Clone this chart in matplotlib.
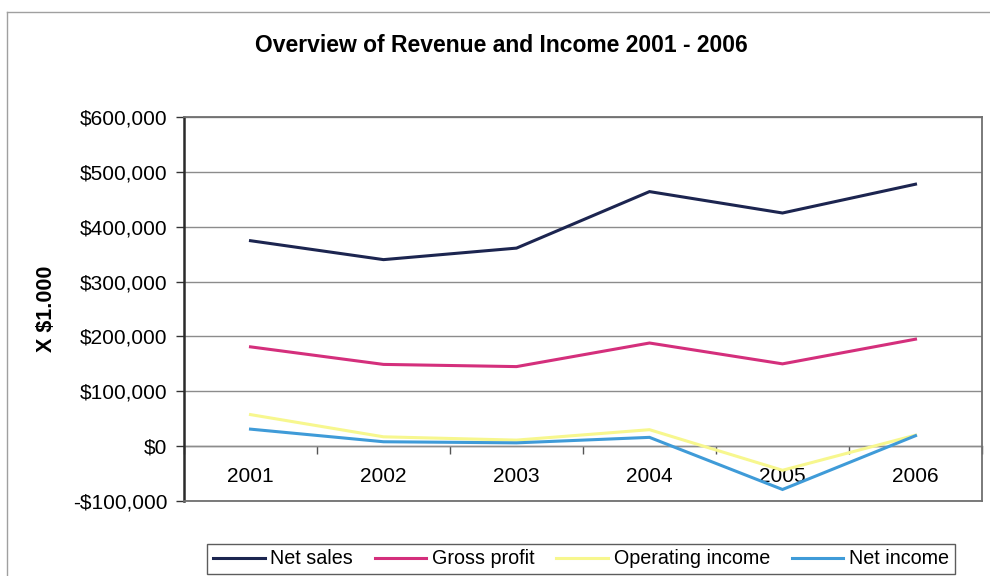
import matplotlib
matplotlib.use("Agg")
import matplotlib.pyplot as plt
from matplotlib.lines import Line2D
from matplotlib.ticker import FuncFormatter, FixedLocator

plt.rcParams['font.family'] = ['Liberation Sans', 'DejaVu Sans']

years = ["2001", "2002", "2003", "2004", "2005", "2006"]
net_sales = [374500, 340000, 361000, 464000, 425000, 477500]
gross_profit = [181000, 149000, 145000, 188000, 150000, 195000]
operating_income = [57500, 17000, 11000, 30000, -44000, 20000]
net_income = [31000, 8000, 6000, 16000, -79000, 19000]

series = [
    ("Net sales", net_sales, "#1c2550"),
    ("Gross profit", gross_profit, "#d42f7c"),
    ("Operating income", operating_income, "#f7f78e"),
    ("Net income", net_income, "#3f9bd8"),
]

W, H = 990, 576
fig = plt.figure(figsize=(W / 100, H / 100), dpi=100)
fig.patch.set_facecolor("white")

# outer chart-area border (top and left edges)
fig.add_artist(Line2D([7 / W, 7 / W], [0, 1 - 12 / H], color="#a0a0a0", lw=1.0))
fig.add_artist(Line2D([7 / W, 1], [1 - 12 / H, 1 - 12 / H], color="#a0a0a0", lw=1.0))

left, right, top, bottom = 184 / W, 982 / W, 1 - 117 / H, 1 - 501 / H
ax = fig.add_axes([left, bottom, right - left, top - bottom])

x = list(range(len(years)))
for name, vals, col in series:
    ax.plot(x, vals, color=col, lw=2.2, label=name, solid_joinstyle="miter", zorder=3)

ax.set_xlim(-0.5, len(years) - 0.5)
ax.set_ylim(-100000, 600000)
ax.yaxis.set_major_locator(FixedLocator(range(-100000, 600001, 100000)))


def money(v, _):
    v = int(round(v))
    return f"-${abs(v):,}" if v < 0 else f"${v:,}"


ax.yaxis.set_major_formatter(FuncFormatter(money))
ax.tick_params(axis="y", direction="out", length=6, width=1.0, color="#333333",
               labelsize=15, pad=6)
ax.grid(axis="y", color="#8c8c8c", lw=1.0, zorder=0)
ax.tick_params(axis="x", bottom=False, labelbottom=False)

for side in ("top", "right", "bottom"):
    ax.spines[side].set_color("#707070")
    ax.spines[side].set_linewidth(1.3)
ax.spines["left"].set_color("#2a2a2a")
ax.spines["left"].set_linewidth(1.8)

# category axis crossing at zero
zero_frac = (0 - (-100000)) / (600000 - (-100000))
sec = ax.secondary_xaxis(zero_frac)
sec.set_xticks([i - 0.5 for i in range(len(years) + 1)])
sec.tick_params(axis="x", direction="out", length=6, width=1.0, color="#555555",
                labelbottom=False)
sec.spines["bottom"].set_color("#777777")
sec.spines["bottom"].set_linewidth(1.0)

lab = ax.secondary_xaxis(zero_frac)
lab.set_xticks(x)
lab.set_xticklabels(years)
lab.tick_params(axis="x", length=0, labelsize=15, pad=15)
lab.spines["bottom"].set_visible(False)

ax.set_ylabel("X $1.000", fontsize=15.5, fontweight="bold")
ax.yaxis.set_label_coords(-0.159, 0.5)

fig.text(501 / W, 1 - 45 / H, "Overview of Revenue and Income 2001 - 2006",
         ha="center", va="center", fontsize=16.5, fontweight="bold")

leg = fig.legend(loc="center", bbox_to_anchor=(581 / W, 1 - 559 / H), ncol=4,
                 fontsize=14.2, frameon=True, fancybox=False, edgecolor="#333333",
                 handlelength=2.6, handletextpad=0.3, columnspacing=1.1,
                 borderpad=0.3)
leg.get_frame().set_linewidth(1.0)

fig.savefig("out.png", dpi=100, facecolor="white")
